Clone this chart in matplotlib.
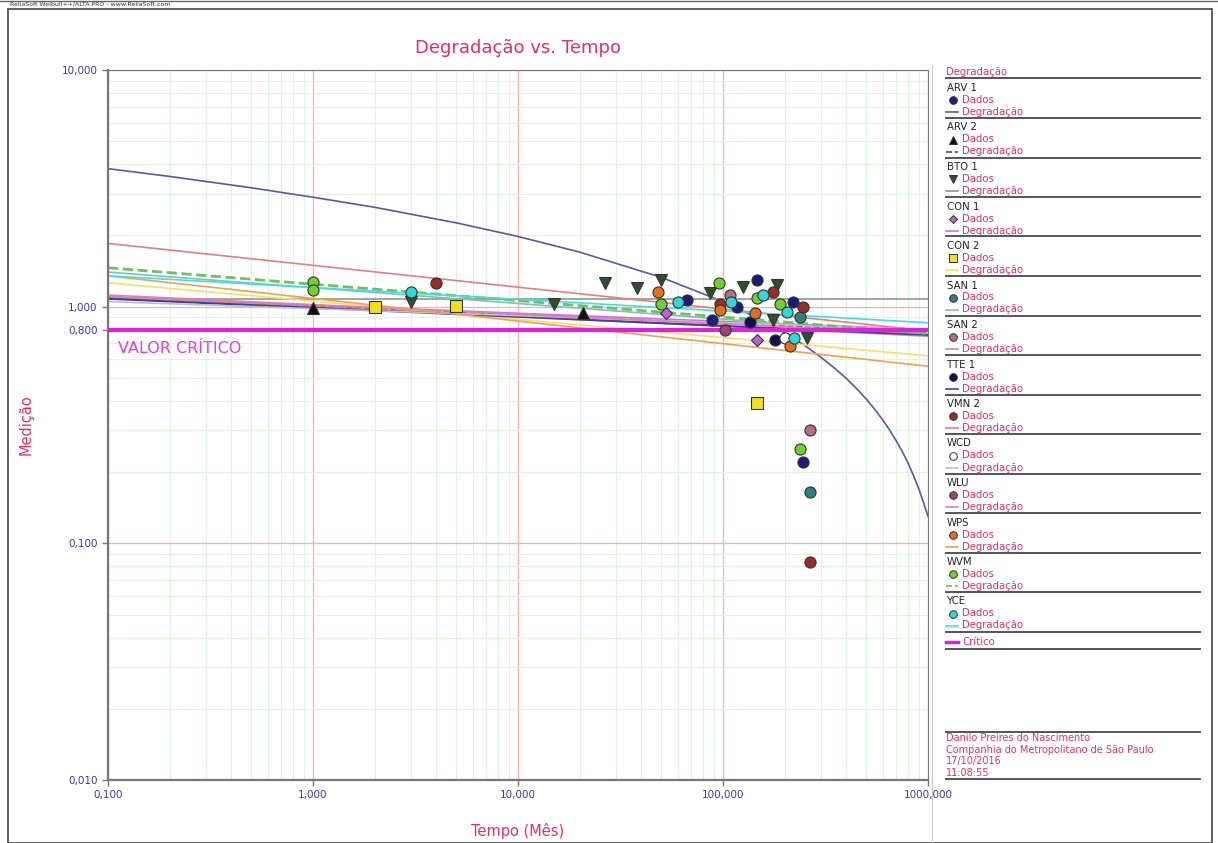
import numpy as np
import matplotlib.pyplot as plt
from matplotlib.lines import Line2D
from matplotlib.patches import Rectangle
from matplotlib.ticker import FixedLocator, NullFormatter, LogLocator

plt.rcParams['font.family'] = ['DejaVu Sans']

W, H = 1218, 843
fig = plt.figure(figsize=(W / 100, H / 100), dpi=100)

# series names
names = ['ARV 1', 'ARV 2', 'BTO 1', 'CON 1', 'CON 2', 'SAN 1', 'SAN 2',
         'TTE 1', 'VMN 2', 'WCD', 'WLU', 'WPS', 'WVM', 'YCE']

# measured points (tempo em meses, medição)
t_arv1 = [67, 117, 146, 220, 245, 88]
v_arv1 = [1.07, 1.00, 1.30, 1.05, 0.22, 0.88]
t_arv2 = [1, 20.7]
v_arv2 = [0.99, 0.94]
t_bto1 = [3, 15, 26.5, 38, 50, 125, 183, 175, 257, 86]
v_bto1 = [1.05, 1.03, 1.26, 1.20, 1.29, 1.21, 1.23, 0.88, 0.74, 1.14]
t_con1 = [53, 147]
v_con1 = [0.94, 0.72]
t_con2 = [2, 5, 147]
v_con2 = [1.00, 1.01, 0.39]
t_san1 = [238, 265]
v_san1 = [0.90, 0.165]
t_san2 = [108, 265]
v_san2 = [1.12, 0.30]
t_tte1 = [135, 179]
v_tte1 = [0.86, 0.72]
t_vmn2 = [4, 97, 175, 245, 265]
v_vmn2 = [1.26, 1.03, 1.15, 1.00, 0.083]
t_wcd = [200]
v_wcd = [0.74]
t_wlu = [102]
v_wlu = [0.80]
t_wps = [48, 97, 143, 212]
v_wps = [1.15, 0.97, 0.94, 0.68]
t_wvm = [1, 1, 50, 96, 147, 189, 238]
v_wvm = [1.27, 1.18, 1.03, 1.26, 1.09, 1.03, 0.25]
t_yce = [3, 60, 110, 157, 205, 223]
v_yce = [1.15, 1.05, 1.05, 1.12, 0.95, 0.74]

# degradation lines: value at t = 0.1 and t = 1000
t_ends = [0.1, 1000]
line_arv2 = [1.10, 0.78]
line_bto1 = [1.08, 1.08]
line_con1 = [1.10, 0.80]
line_con2 = [1.26, 0.62]
line_san1 = [1.40, 0.76]
line_san2 = [1.10, 0.75]
line_tte1 = [1.08, 0.76]
line_vmn2 = [1.85, 0.79]
line_wcd = [1.05, 0.80]
line_wlu = [1.12, 0.77]
line_wps = [1.35, 0.56]
line_wvm = [1.46, 0.77]
line_yce = [1.35, 0.855]
# ARV 1 degradation is curved
t_curve_arv1 = [0.1, 0.2, 0.5, 1, 2, 5, 10, 20, 50, 100, 150, 200, 250, 300,
                350, 400, 450, 500, 550, 600, 650, 700, 750, 800, 850, 900,
                950, 1000]
v_curve_arv1 = [3.83, 3.55, 3.18, 2.90, 2.63, 2.26, 1.98, 1.70, 1.33, 1.05,
                0.89, 0.775, 0.686, 0.612, 0.550, 0.497, 0.449, 0.407, 0.368,
                0.333, 0.301, 0.271, 0.244, 0.218, 0.193, 0.171, 0.149, 0.13]

critico = 0.8

pts = [(t_arv1, v_arv1), (t_arv2, v_arv2), (t_bto1, v_bto1), (t_con1, v_con1),
       (t_con2, v_con2), (t_san1, v_san1), (t_san2, v_san2), (t_tte1, v_tte1),
       (t_vmn2, v_vmn2), (t_wcd, v_wcd), (t_wlu, v_wlu), (t_wps, v_wps),
       (t_wvm, v_wvm), (t_yce, v_yce)]
lines = [(t_curve_arv1, v_curve_arv1), (t_ends, line_arv2), (t_ends, line_bto1),
         (t_ends, line_con1), (t_ends, line_con2), (t_ends, line_san1),
         (t_ends, line_san2), (t_ends, line_tte1), (t_ends, line_vmn2),
         (t_ends, line_wcd), (t_ends, line_wlu), (t_ends, line_wps),
         (t_ends, line_wvm), (t_ends, line_yce)]

markers = ['o', '^', 'v', 'D', 's', 'o', 'o', 'o', 'o', 'o', 'o', 'o', 'o', 'o']
mcolors = ['#1c1c7a', '#101010', '#2f4f2f', '#c060d0', '#f0e020', '#2e8080',
           '#b07080', '#101050', '#9b2a2a', '#ffffff', '#a0407a', '#e07020',
           '#70d030', '#30d8d8']
lcolors = ['#5a5a9a', '#505050', '#8a9a8a', '#d070e0', '#f5e06a', '#80c0c0',
           '#d09090', '#4040a0', '#e08080', '#c0c0c0', '#e080b0', '#f0a050',
           '#70c060', '#40e0e0']
lstyles = ['-', '--', '-', '-', '-', '-', '-', '-', '-', '-', '-', '-', '--', '-']
lwidths = [1.2, 1.2, 1.2, 1.2, 1.2, 1.2, 1.2, 1.5, 1.2, 1.2, 1.2, 1.2, 2.0, 1.2]

red = '#e0306a'
navy = '#3a3a9a'

ax = fig.add_axes([108 / W, 1 - 780 / H, 820 / W, 710 / H])
ax.set_xscale('log')
ax.set_yscale('log')
ax.set_xlim(0.1, 1000)
ax.set_ylim(0.01, 10)

ax.xaxis.set_minor_locator(LogLocator(base=10, subs=np.arange(2, 10)))
ax.yaxis.set_minor_locator(LogLocator(base=10, subs=np.arange(2, 10)))
ax.xaxis.set_minor_formatter(NullFormatter())
ax.yaxis.set_minor_formatter(NullFormatter())
ax.grid(True, which='minor', color='#e0f3e0', lw=0.8)
ax.grid(True, which='major', color='#f4b0b0', lw=0.9)
ax.set_axisbelow(True)

xt = [0.1, 1, 10, 100, 1000]
ax.xaxis.set_major_locator(FixedLocator(xt))
ax.set_xticklabels(['0,100', '1,000', '10,000', '100,000', '1000,000'])
yt = [0.01, 0.1, 0.8, 1, 10]
ax.yaxis.set_major_locator(FixedLocator(yt))
ax.set_yticklabels(['0,010', '0,100', '0,800', '1,000', '10,000'])
ax.tick_params(which='major', colors='#777777', labelcolor=navy, labelsize=7.5,
               length=4, width=1)
ax.tick_params(which='minor', length=0)
for s in ax.spines.values():
    s.set_color('#777777')
ax.spines['left'].set_linewidth(1.6)
ax.spines['bottom'].set_linewidth(1.6)
ax.spines['top'].set_linewidth(0.8)
ax.spines['right'].set_linewidth(0.8)

for i in range(len(names)):
    ax.plot(lines[i][0], lines[i][1], color=lcolors[i], ls=lstyles[i],
            lw=lwidths[i], zorder=2)
ax.axhline(critico, color='#e020e0', lw=3, zorder=3)
for i in range(len(names)):
    ms = 6 if markers[i] == 'D' else 8
    ax.plot(pts[i][0], pts[i][1], ls='none', marker=markers[i], ms=ms,
            mfc=mcolors[i], mec='#333333', mew=0.8, zorder=4)

ax.text(0.112, 0.64, 'VALOR CRÍTICO', color='#e040e0', fontsize=11.5)

ax.set_title('Degradação vs. Tempo', color=red, fontsize=13, pad=12)
ax.set_xlabel('Tempo (Mês)', color=red, fontsize=10.5, labelpad=16)
ax.set_ylabel('Medição', color=red, fontsize=10.5, labelpad=20)


def fy(y):
    return 1 - y / H


def fx(x):
    return x / W


fs = 7.3
# right hand legend panel
fig.add_artist(Line2D([fx(932), fx(932)], [fy(65), fy(843)], color='#cccccc', lw=0.8))
fig.text(fx(946), fy(72), 'Degradação', color=red, fontsize=fs, va='center')
fig.add_artist(Line2D([fx(946), fx(1200)], [fy(78), fy(78)], color='#555555', lw=1.4))
step = 39.5
for i, nm in enumerate(names):
    y0 = 88 + step * i
    fig.text(fx(947), fy(y0), nm, color='#222222', fontsize=fs, va='center')
    ms = 4 if markers[i] == 'D' else 5.5
    fig.add_artist(Line2D([fx(953)], [fy(y0 + 12)], marker=markers[i], ms=ms,
                          mfc=mcolors[i], mec='#333333', mew=0.7, ls='none'))
    fig.text(fx(962), fy(y0 + 12), 'Dados', color=red, fontsize=fs, va='center')
    fig.add_artist(Line2D([fx(946), fx(958)], [fy(y0 + 24), fy(y0 + 24)],
                          color=lcolors[i], ls=lstyles[i], lw=1.2))
    fig.text(fx(962), fy(y0 + 24), 'Degradação', color=red, fontsize=fs, va='center')
    fig.add_artist(Line2D([fx(946), fx(1200)], [fy(y0 + 30), fy(y0 + 30)],
                          color='#555555', lw=1.4))
yc = 88 + step * 14 + 1
fig.add_artist(Line2D([fx(946), fx(958)], [fy(yc), fy(yc)], color='#e020e0', lw=2.5))
fig.text(fx(962), fy(yc), 'Crítico', color=red, fontsize=fs, va='center')
fig.add_artist(Line2D([fx(946), fx(1200)], [fy(yc + 7), fy(yc + 7)], color='#555555', lw=1.4))

fig.add_artist(Line2D([fx(946), fx(1200)], [fy(732), fy(732)], color='#555555', lw=1.4))
info = ['Danilo Preires do Nascimento', 'Companhia do Metropolitano de São Paulo',
        '17/10/2016', '11:08:55']
for k, s in enumerate(info):
    fig.text(fx(946), fy(738 + 11.7 * k), s, color=red, fontsize=fs - 0.3, va='center')
fig.add_artist(Line2D([fx(946), fx(1200)], [fy(779), fy(779)], color='#555555', lw=1.4))

# window frame
fig.add_artist(Rectangle((fx(8), 0), fx(1204), fy(9), fill=False, ec='#444444',
                         lw=1.2, transform=fig.transFigure))
fig.add_artist(Line2D([0, 1], [fy(1), fy(1)], color='#666666', lw=1))
fig.text(fx(10), fy(4.5), 'ReliaSoft Weibull++/ALTA PRO - www.ReliaSoft.com',
         color='#333333', fontsize=4.5, va='center')

fig.savefig('out.png', dpi=100)
